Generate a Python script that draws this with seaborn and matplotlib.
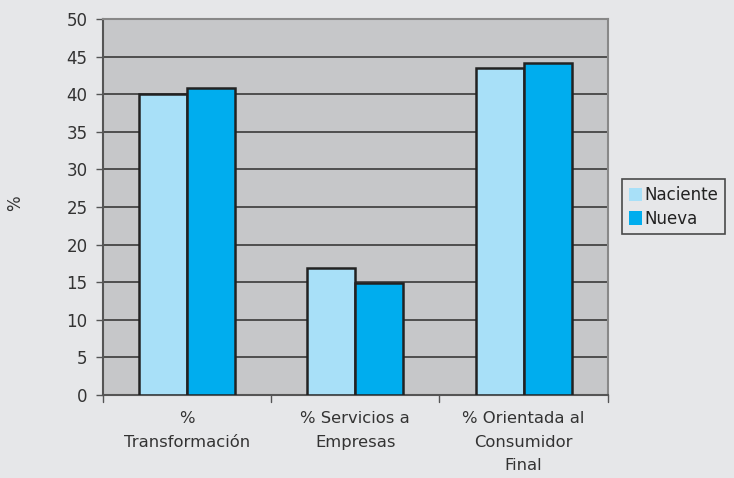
import matplotlib
matplotlib.use("Agg")
import matplotlib.pyplot as plt
import seaborn as sns
import pandas as pd
from matplotlib.patches import Patch

categories = ["%\nTransformación", "% Servicios a\nEmpresas", "% Orientada al\nConsumidor\nFinal"]
series_names = ["Naciente", "Nueva"]
naciente = [40.0, 16.9, 43.5]
nueva = [40.8, 14.9, 44.2]
colors = ["#a8e0f8", "#00adee"]
yticks = [0, 5, 10, 15, 20, 25, 30, 35, 40, 45, 50]

df = pd.DataFrame({
    "cat": categories * 2,
    "serie": [series_names[0]] * 3 + [series_names[1]] * 3,
    "val": naciente + nueva,
})

sns.set_theme(style="white")
plt.rcParams["font.family"] = ["DejaVu Sans"]

fig = plt.figure(figsize=(7.34, 4.78), dpi=100)
fig.patch.set_facecolor("#e6e7e9")
ax = fig.add_axes([0.140, 0.174, 0.688, 0.786])
ax.set_facecolor("#c6c7c9")

sns.barplot(data=df, x="cat", y="val", hue="serie", palette=colors,
            width=0.57, edgecolor="#222222", linewidth=1.8, ax=ax,
            legend=False, saturation=1, zorder=3)

ax.set_ylim(0, 50)
ax.set_xlim(-0.5, 2.5)
ax.set_yticks(yticks)
ax.yaxis.grid(True, color="#3a3a3a", linewidth=1.2, zorder=1)
ax.set_axisbelow(True)
ax.set_xlabel("")
ax.set_ylabel("")
fig.text(15 / 734, 1 - 203 / 478, "%", rotation=90, ha="center", va="center",
         fontsize=12, color="#333333")

for s in ["left", "bottom"]:
    ax.spines[s].set_color("#555555")
    ax.spines[s].set_linewidth(1.5)
for s in ["top", "right"]:
    ax.spines[s].set_color("#888888")
    ax.spines[s].set_linewidth(1.5)

ax.tick_params(axis="y", which="both", left=True, length=5, width=1, color="#555555",
               labelsize=12, labelcolor="#333333", pad=6)
ax.set_xticks([0, 1, 2])
ax.set_xticklabels(categories, fontsize=11.8, color="#333333", linespacing=1.68)
ax.tick_params(axis="x", bottom=False, pad=6)
for xb in [-0.5, 0.5, 1.5, 2.5]:
    ax.plot([xb, xb], [0, -0.018], transform=ax.get_xaxis_transform(),
            color="#555555", linewidth=1, clip_on=False)

handles = [Patch(facecolor=c, edgecolor="none") for c in colors]
leg = fig.legend(handles, series_names, loc="upper left", bbox_to_anchor=(0.848, 0.625),
                 frameon=True, fancybox=False, fontsize=12, handlelength=0.75,
                 handleheight=0.85, handletextpad=0.15, borderpad=0.4, labelspacing=0.35,
                 borderaxespad=0)
leg.get_frame().set_edgecolor("#222222")
leg.get_frame().set_linewidth(1.2)
leg.get_frame().set_facecolor("#e6e7e9")
for t in leg.get_texts():
    t.set_color("#222222")

fig.savefig("out.png", dpi=100, facecolor=fig.get_facecolor())
